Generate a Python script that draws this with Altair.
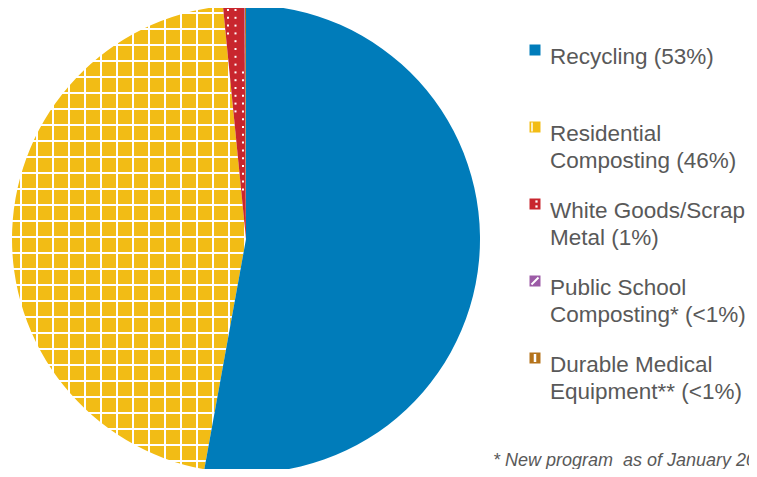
import math
import altair as alt
import pandas as pd

# ---- data ----
categories = [
    "Recycling",
    "Residential Composting",
    "White Goods/Scrap Metal",
    "Public School Composting*",
    "Durable Medical Equipment**",
]
shares = [52.85, 45.58, 1.46, 0.04, 0.07]
legend_labels = [
    "Recycling (53%)",
    "Residential\nComposting (46%)",
    "White Goods/Scrap\nMetal (1%)",
    "Public School\nComposting* (<1%)",
    "Durable Medical\nEquipment** (<1%)",
]
colors = ["#007CBA", "#F2BC15", "#C8262E", "#9C5BA6", "#B5731B"]
footnote = "* New program\u00a0 as of January 2015"

# ---- layout (pixels inside the svg) ----
W, H = 741, 461
CX, CY, R = 238, 231, 234
TEXT_GRAY = "#595959"

df = pd.DataFrame({
    "category": categories,
    "share": shares,
    "label": legend_labels,
    "order": list(range(len(categories))),
})

total = sum(shares)
a0 = 2 * math.pi * sum(shares[:2]) / total
a1 = 2 * math.pi * sum(shares[:3]) / total

color = alt.Color("category:N", scale=alt.Scale(domain=categories, range=colors), legend=None)

base = (
    alt.Chart(df)
    .transform_window(cum="sum(share)", sort=[alt.SortField("order")], frame=[None, 0])
    .transform_joinaggregate(total="sum(share)")
    .transform_calculate(t0="2*PI*(datum.cum-datum.share)/datum.total")
    .transform_calculate(t1="2*PI*datum.cum/datum.total")
)
arc_enc = dict(
    theta=alt.Theta("t0:Q", scale=None),
    theta2=alt.Theta2("t1:Q"),
    color=color,
    x=alt.value(CX),
    y=alt.value(CY),
)
yellow = base.transform_filter("datum.order == 1").mark_arc(radius=R).encode(**arc_enc)
others = base.transform_filter("datum.order != 1").mark_arc(radius=R).encode(**arc_enc)

# white grid pattern of the Residential Composting slice
vlines = (
    alt.Chart(alt.sequence(0, 31, as_="k"))
    .transform_calculate(gx="13 + 16*datum.k")
    .mark_rule(color="white", strokeWidth=2)
    .encode(x=alt.X("gx:Q", scale=None), y=alt.value(CY - R), y2=alt.value(CY + R))
)
hlines = (
    alt.Chart(alt.sequence(0, 31, as_="k"))
    .transform_calculate(gy="5 + 16*datum.k")
    .mark_rule(color="white", strokeWidth=2)
    .encode(y=alt.Y("gy:Q", scale=None), x=alt.value(CX - R), x2=alt.value(CX + R))
)

# white dot pattern of the White Goods slice
dots = (
    alt.Chart(alt.sequence(0, 41 * 31, as_="k"))
    .transform_calculate(px="7.5*(datum.k % 41) - 5")
    .transform_calculate(py="2 + 7.8*floor(datum.k / 41)")
    .transform_calculate(dx=f"datum.px - {CX}")
    .transform_calculate(dy=f"datum.py - {CY}")
    .transform_calculate(ang0="atan2(datum.dx, -datum.dy)")
    .transform_calculate(ang="datum.ang0 < 0 ? datum.ang0 + 2*PI : datum.ang0")
    .transform_calculate(rr="sqrt(datum.dx*datum.dx + datum.dy*datum.dy)")
    .transform_filter(
        f"datum.rr > 5 && datum.rr < {R - 3} && datum.ang > {a0} + 1.8/datum.rr && datum.ang < {a1} - 1.8/datum.rr"
    )
    .mark_square(size=4, color="white", opacity=1)
    .encode(x=alt.X("px:Q", scale=None), y=alt.Y("py:Q", scale=None))
)

# ---- legend ----
leg = (
    alt.Chart(df)
    .transform_calculate(ly="56 + 77*datum.order")
    .transform_calculate(sy="datum.ly - 14")
)
SX = 527
symbols = leg.mark_square(size=121, opacity=1).encode(
    x=alt.value(SX), y=alt.Y("sy:Q", scale=None), color=color
)
labels = leg.mark_text(
    align="left", baseline="alphabetic", font="Liberation Sans", fontSize=22.5,
    color=TEXT_GRAY, lineBreak="\n", lineHeight=27,
).encode(x=alt.value(542), y=alt.Y("ly:Q", scale=None), text="label:N")

# tiny white patterns inside legend symbols
sym_yellow = (
    leg.transform_filter("datum.order == 1")
    .transform_calculate(y1="datum.sy - 4.5", y2="datum.sy + 4.5")
    .mark_rule(color="white", strokeWidth=1.5)
    .encode(x=alt.value(SX - 3), y=alt.Y("y1:Q", scale=None), y2="y2:Q")
)
sym_red = (
    leg.transform_filter("datum.order == 2")
    .transform_calculate(d1="datum.sy - 2.5")
    .mark_square(size=5, color="white", opacity=1)
    .encode(x=alt.value(SX + 1.5), y=alt.Y("d1:Q", scale=None))
)
sym_red2 = (
    leg.transform_filter("datum.order == 2")
    .transform_calculate(d2="datum.sy + 2.5")
    .mark_square(size=5, color="white", opacity=1)
    .encode(x=alt.value(SX + 1.5), y=alt.Y("d2:Q", scale=None))
)
sym_purple = (
    leg.transform_filter("datum.order == 3")
    .transform_calculate(y1="datum.sy + 3.5", y2="datum.sy - 3.5")
    .mark_rule(color="white", strokeWidth=2)
    .encode(x=alt.value(SX - 3.5), x2=alt.value(SX + 3.5), y=alt.Y("y1:Q", scale=None), y2="y2:Q")
)
sym_brown = (
    leg.transform_filter("datum.order == 4")
    .transform_calculate(y1="datum.sy - 4", y2="datum.sy + 4")
    .mark_rule(color="white", strokeWidth=2.5)
    .encode(x=alt.value(SX), y=alt.Y("y1:Q", scale=None), y2="y2:Q")
)

note = (
    alt.Chart(pd.DataFrame({"t": [footnote]}))
    .mark_text(align="left", baseline="alphabetic", font="Liberation Sans", fontSize=18,
               fontStyle="italic", color=TEXT_GRAY)
    .encode(x=alt.value(485), y=alt.value(458), text="t:N")
)

chart = (
    alt.layer(yellow, vlines, hlines, others, dots, symbols,
              sym_yellow, sym_red, sym_red2, sym_purple, sym_brown, labels, note)
    .properties(width=W, height=H, autosize=alt.AutoSizeParams(type="none"), padding=0,
                background="white")
    .configure_view(stroke=None)
)

chart.save("out.html", embed_options={"renderer": "svg", "actions": False})
